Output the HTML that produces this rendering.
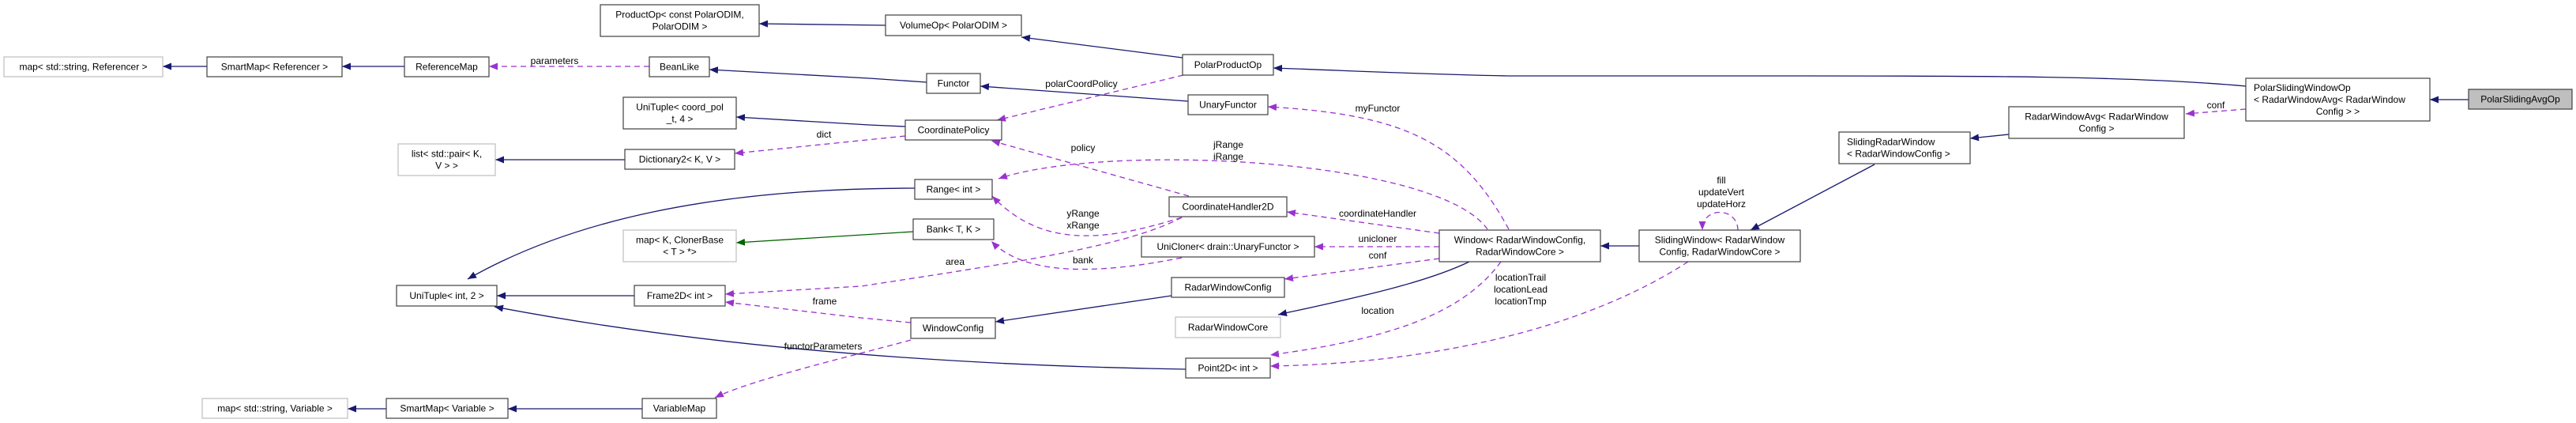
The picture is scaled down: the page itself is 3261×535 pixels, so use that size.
<!DOCTYPE html>
<html><head><meta charset="utf-8"><style>
html,body{margin:0;padding:0;background:#fff;width:3261px;height:535px;overflow:hidden}
svg{display:block}
text{font-family:"Liberation Sans",Arial,sans-serif;font-size:12px;fill:#000}
.n{fill:#fff;stroke:#404040;stroke-width:1.2}
.g{fill:#fff;stroke:#bfbfbf;stroke-width:1.2}
.b{fill:none;stroke:#191970;stroke-width:1.3}
.p{fill:none;stroke:#9a32cd;stroke-width:1.3;stroke-dasharray:7,5}
.gr{fill:none;stroke:#006400;stroke-width:1.3}
</style></head><body>
<svg width="3261" height="535" viewBox="0 0 3261 535" xmlns="http://www.w3.org/2000/svg">
<defs>
<marker id="mb" markerUnits="userSpaceOnUse" markerWidth="12" markerHeight="10" refX="11" refY="4.5" orient="auto"><path d="M0,0 L11,4.5 L0,9 z" fill="#191970"/></marker>
<marker id="mp" markerUnits="userSpaceOnUse" markerWidth="12" markerHeight="10" refX="11" refY="4.5" orient="auto"><path d="M0,0 L11,4.5 L0,9 z" fill="#9a32cd"/></marker>
<marker id="mg" markerUnits="userSpaceOnUse" markerWidth="12" markerHeight="10" refX="11" refY="4.5" orient="auto"><path d="M0,0 L11,4.5 L0,9 z" fill="#006400"/></marker>
</defs>

<!-- edges -->
<g>
<path class="b" marker-end="url(#mb)" d="M262,84 L206,84"/>
<path class="b" marker-end="url(#mb)" d="M512,84 L433,84"/>
<path class="p" marker-end="url(#mp)" d="M822,84 L619,84"/>
<path class="b" marker-end="url(#mb)" d="M1173,104 L1100,99 L898,88"/>
<path class="b" marker-end="url(#mb)" d="M1121,32 L961,30"/>
<path class="b" marker-end="url(#mb)" d="M1497,73 L1293,47"/>
<path class="b" marker-end="url(#mb)" d="M1504,128 L1241,109"/>
<path class="p" marker-end="url(#mp)" d="M1498,95 L1262,152"/>
<path class="b" marker-end="url(#mb)" d="M1146,160 L1100,158 L932,148"/>
<path class="p" marker-end="url(#mp)" d="M1146,172 L930,194"/>
<path class="b" marker-end="url(#mb)" d="M791,202 L627,202"/>
<path class="b" marker-end="url(#mb)" d="M1158,238 C900,238 720,280 592,353"/>
<path class="gr" marker-end="url(#mg)" d="M1156,293 L932,307"/>
<path class="b" marker-end="url(#mb)" d="M803,374 L629,374"/>
<path class="b" marker-end="url(#mb)" d="M1501,467 C1200,462 900,440 626,388"/>
<path class="p" marker-end="url(#mp)" d="M1153,408 L1090,402 L918,382"/>
<path class="p" marker-end="url(#mp)" d="M1496,275 C1430,310 1300,330 1090,362 L918,372"/>
<path class="p" marker-end="url(#mp)" d="M1505,248 L1255,178"/>
<path class="p" marker-end="url(#mp)" d="M1883,290 C1820,200 1400,180 1264,226"/>
<path class="p" marker-end="url(#mp)" d="M1496,275 C1400,305 1320,315 1256,248"/>
<path class="p" marker-end="url(#mp)" d="M1910,290 C1850,180 1780,145 1605,135"/>
<path class="p" marker-end="url(#mp)" d="M1822,295 L1629,268"/>
<path class="p" marker-end="url(#mp)" d="M1822,312 L1664,312"/>
<path class="p" marker-end="url(#mp)" d="M1822,327 L1626,353"/>
<path class="p" marker-end="url(#mp)" d="M1496,326 C1400,345 1300,352 1255,305"/>
<path class="b" marker-end="url(#mb)" d="M1483,374 L1260,407"/>
<path class="b" marker-end="url(#mb)" d="M1860,331 C1800,360 1700,380 1618,398"/>
<path class="p" marker-end="url(#mp)" d="M1900,331 C1850,400 1750,430 1608,449"/>
<path class="p" marker-end="url(#mp)" d="M2137,331 C2000,420 1800,460 1608,463"/>
<path class="b" marker-end="url(#mb)" d="M2075,311 L2026,311"/>
<path class="p" marker-end="url(#mp)" d="M2200,291 C2200,262 2155,260 2155,291"/>
<path class="b" marker-end="url(#mb)" d="M2373,208 L2216,291"/>
<path class="b" marker-end="url(#mb)" d="M2543,170 L2494,175"/>
<path class="p" marker-end="url(#mp)" d="M2843,138 L2767,144"/>
<path class="b" marker-end="url(#mb)" d="M3125,126 L3076,126"/>
<path class="b" marker-end="url(#mb)" d="M2843,109 C2700,96 2500,96 2280,96 L1910,96 C1800,94 1700,89 1612,86"/>
<path class="p" marker-end="url(#mp)" d="M1153,430 C1100,445 950,480 905,503"/>
<path class="b" marker-end="url(#mb)" d="M813,517 L643,517"/>
<path class="b" marker-end="url(#mb)" d="M489,517 L440,517"/>
</g>

<!-- edge labels -->
<g text-anchor="middle">
<text x="702" y="81">parameters</text>
<text x="1369" y="110">polarCoordPolicy</text>
<text x="1043" y="174">dict</text>
<text x="1044" y="385">frame</text>
<text x="1209" y="335">area</text>
<text x="1371" y="191">policy</text>
<text x="1555" y="187">jRange</text>
<text x="1555" y="202">iRange</text>
<text x="1371" y="274">yRange</text>
<text x="1371" y="289">xRange</text>
<text x="1371" y="333">bank</text>
<text x="1744" y="141">myFunctor</text>
<text x="1744" y="274">coordinateHandler</text>
<text x="1744" y="306">unicloner</text>
<text x="1744" y="327">conf</text>
<text x="1744" y="397">location</text>
<text x="1925" y="355">locationTrail</text>
<text x="1925" y="370">locationLead</text>
<text x="1925" y="385">locationTmp</text>
<text x="2179" y="232">fill</text>
<text x="2179" y="247">updateVert</text>
<text x="2179" y="262">updateHorz</text>
<text x="2805" y="137">conf</text>
<text x="1042" y="442">functorParameters</text>
</g>

<!-- nodes -->
<g text-anchor="middle">
<rect class="g" x="5" y="72" width="201" height="25"/><text x="105.5" y="88.5">map&lt; std::string, Referencer &gt;</text>
<rect class="n" x="262" y="72" width="171" height="25"/><text x="347.5" y="88.5">SmartMap&lt; Referencer &gt;</text>
<rect class="n" x="512" y="72" width="107" height="25"/><text x="565.5" y="88.5">ReferenceMap</text>
<rect class="g" x="504" y="182" width="123" height="40"/><text x="565.5" y="198.5">list&lt; std::pair&lt; K,</text><text x="565.5" y="213.5">V &gt; &gt;</text>
<rect class="n" x="760" y="6" width="201" height="40"/><text x="860.5" y="22.5">ProductOp&lt; const PolarODIM,</text><text x="860.5" y="37.5">PolarODIM &gt;</text>
<rect class="n" x="822" y="72" width="76" height="25"/><text x="860" y="88.5">BeanLike</text>
<rect class="n" x="789" y="123" width="143" height="40"/><text x="860.5" y="139.5">UniTuple&lt; coord_pol</text><text x="860.5" y="154.5">_t, 4 &gt;</text>
<rect class="n" x="791" y="189" width="139" height="25"/><text x="860.5" y="205.5">Dictionary2&lt; K, V &gt;</text>
<rect class="n" x="502" y="361" width="127" height="26"/><text x="565.5" y="378">UniTuple&lt; int, 2 &gt;</text>
<rect class="g" x="256" y="504" width="184" height="25"/><text x="348" y="520.5">map&lt; std::string, Variable &gt;</text>
<rect class="n" x="489" y="504" width="154" height="25"/><text x="566" y="520.5">SmartMap&lt; Variable &gt;</text>
<rect class="g" x="789" y="291" width="143" height="40"/><text x="860.5" y="307.5">map&lt; K, ClonerBase</text><text x="860.5" y="322.5">&lt; T &gt; *&gt;</text>
<rect class="n" x="803" y="361" width="115" height="26"/><text x="860.5" y="378">Frame2D&lt; int &gt;</text>
<rect class="n" x="813" y="504" width="94" height="25"/><text x="860" y="520.5">VariableMap</text>
<rect class="n" x="1121" y="19" width="172" height="26"/><text x="1207" y="36">VolumeOp&lt; PolarODIM &gt;</text>
<rect class="n" x="1497" y="69" width="115" height="26"/><text x="1554.5" y="86">PolarProductOp</text>
<rect class="n" x="1173" y="93" width="68" height="25"/><text x="1207" y="109.5">Functor</text>
<rect class="n" x="1504" y="120" width="101" height="25"/><text x="1554.5" y="136.5">UnaryFunctor</text>
<rect class="n" x="1146" y="152" width="122" height="25"/><text x="1207" y="168.5">CoordinatePolicy</text>
<rect class="n" x="1158" y="227" width="98" height="25"/><text x="1207" y="243.5">Range&lt; int &gt;</text>
<rect class="n" x="1480" y="249" width="149" height="25"/><text x="1554.5" y="265.5">CoordinateHandler2D</text>
<rect class="n" x="1156" y="277" width="102" height="26"/><text x="1207" y="294">Bank&lt; T, K &gt;</text>
<rect class="n" x="1445" y="299" width="219" height="26"/><text x="1554.5" y="316">UniCloner&lt; drain::UnaryFunctor &gt;</text>
<rect class="n" x="1483" y="351" width="143" height="25"/><text x="1554.5" y="367.5">RadarWindowConfig</text>
<rect class="n" x="1153" y="402" width="107" height="26"/><text x="1206.5" y="419">WindowConfig</text>
<rect class="g" x="1488" y="401" width="133" height="26"/><text x="1554.5" y="418">RadarWindowCore</text>
<rect class="n" x="1501" y="453" width="107" height="25"/><text x="1554.5" y="469.5">Point2D&lt; int &gt;</text>
<rect class="n" x="1822" y="291" width="204" height="40"/><text x="1924" y="307.5">Window&lt; RadarWindowConfig,</text><text x="1924" y="322.5">RadarWindowCore &gt;</text>
<rect class="n" x="2075" y="291" width="204" height="40"/><text x="2177" y="307.5">SlidingWindow&lt; RadarWindow</text><text x="2177" y="322.5">Config, RadarWindowCore &gt;</text>
<rect class="n" x="2328" y="167" width="166" height="40"/><text x="2338" y="183.5" text-anchor="start">SlidingRadarWindow</text><text x="2338" y="198.5" text-anchor="start">&lt; RadarWindowConfig &gt;</text>
<rect class="n" x="2543" y="135" width="222" height="40"/><text x="2654" y="151.5">RadarWindowAvg&lt; RadarWindow</text><text x="2654" y="166.5">Config &gt;</text>
<rect class="n" x="2843" y="99" width="233" height="54"/><text x="2853" y="115" text-anchor="start">PolarSlidingWindowOp</text><text x="2853" y="130" text-anchor="start">&lt; RadarWindowAvg&lt; RadarWindow</text><text x="2959.5" y="145">Config &gt; &gt;</text>
<rect x="3125" y="113" width="131" height="25" fill="#bfbfbf" stroke="#404040" stroke-width="1.2"/><text x="3190.5" y="129.5">PolarSlidingAvgOp</text>
</g>
</svg>
</body></html>
